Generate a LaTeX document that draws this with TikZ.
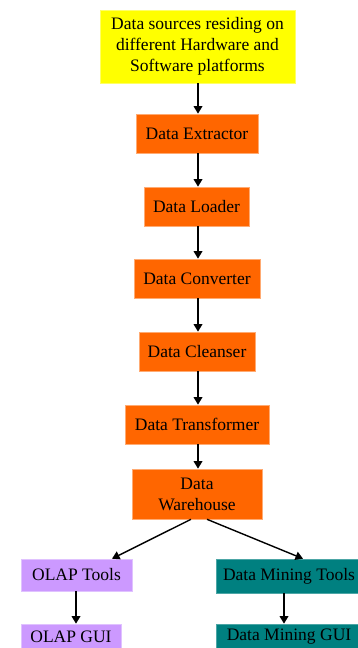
\documentclass[tikz,border=0pt]{standalone}
\usepackage{fontspec}
\setmainfont{Liberation Serif}
\usepackage{tikz}
\usetikzlibrary{calc,arrows.meta}
\definecolor{srcyellow}{HTML}{FFFF00}
\definecolor{steporange}{HTML}{FF6600}
\definecolor{olaplilac}{HTML}{CC99FF}
\definecolor{miningteal}{HTML}{008080}

\begin{document}
\begin{tikzpicture}[x=1pt,y=-1pt,
		box/.style={rectangle,inner sep=0pt,align=center,font=\fontsize{17.5}{21}\selectfont,line width=0.6pt},
		stage/.style={box,fill=steporange,draw=steporange!55!white,minimum height=39pt},
		olapbox/.style={box,fill=olaplilac,draw=olaplilac!60!white,minimum width=111pt,minimum height=32pt},
		minebox/.style={box,fill=miningteal,draw=miningteal!70!white,minimum width=146pt,minimum height=34pt},
		arr/.style={-{Triangle[width=8.5pt,length=7.5pt]},line width=1.7pt}]
				\useasboundingbox (0,0) rectangle (358,648);
				\fill[white] (0,0) rectangle (358,648);
				
				\node[box,fill=srcyellow,draw=srcyellow!60!white,minimum width=195pt,minimum height=73pt] (src) at (197.5,46.5)
				{Data sources residing on\\different Hardware and\\Software platforms};
				\node[stage,minimum width=122pt] (extract) at (197,133.5) {Data Extractor};
				\node[stage,minimum width=105pt] (load) at (196.5,206.5) {Data Loader};
				\node[stage,minimum width=126pt] (convert) at (197,278.5) {Data Converter};
				\node[stage,minimum width=116pt] (cleanse) at (197,351.5) {Data Cleanser};
				\node[stage,minimum width=144pt] (transform) at (197,424.5) {Data Transformer};
				\node[stage,minimum width=130pt,minimum height=50pt] (wh) at (197,494) {Data\\Warehouse};
				
				\node[olapbox] (olap) at (76.5,575) {OLAP Tools};
				\node[olapbox,minimum width=100pt,minimum height=26pt] (olapgui) at (71,637) {OLAP GUI};
				\node[minebox] (mine) at (289,576) {Data Mining Tools};
				\node[minebox,minimum height=26pt] (minegui) at (289,637) {Data Mining GUI};
				
				% pipeline
				\foreach \a/\b in {src/extract,extract/load,load/convert,convert/cleanse,cleanse/transform,transform/wh}
				\draw[arr] (\a.south -| 198,0) -- (\b.north -| 198,0);
				
				% split to the two tool chains
				\draw[arr,line width=1.4pt] ($(wh.south)+(-6,0)$) -- ($(olap.north)+(35.5,0)$);
				\draw[arr,line width=1.4pt] ($(wh.south)+(10,0)$) -- ($(mine.north)+(14,0)$);
				\draw[arr] (olap.south -| 76,0) -- (olapgui.north -| 76,0);
				\draw[arr] (mine.south -| 284,0) -- (minegui.north -| 284,0);
			\end{tikzpicture}
\end{document}
